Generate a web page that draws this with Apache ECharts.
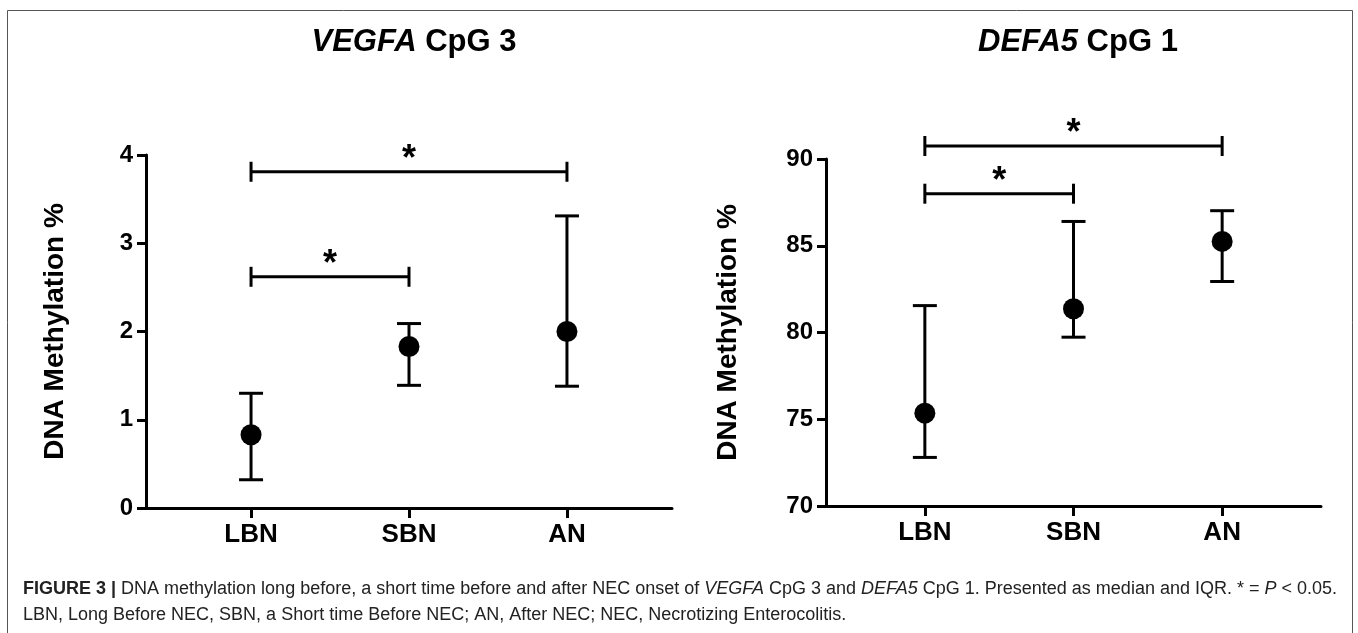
<!DOCTYPE html>
<html>
<head>
<meta charset="utf-8">
<script src="https://cdn.jsdelivr.net/npm/echarts@6/dist/echarts.min.js"></script>
<style>
  html, body { margin: 0; padding: 0; background: #fff; }
  #main { width: 1358px; height: 633px; }
</style>
</head>
<body>
<div id="main"></div>
<script>
// 数据
var categories = ['LBN', 'SBN', 'AN'];
var catPos = [1, 2, 3];

var vegfaMedian = [0.83, 1.83, 2.0];
var vegfaQ1 = [0.32, 1.39, 1.38];
var vegfaQ3 = [1.30, 2.09, 3.31];
var vegfaTicks = [0, 1, 2, 3, 4];
// [from, to, y]
var vegfaBrackets = [[1, 3, 3.81], [1, 2, 2.62]];

var defa5Median = [75.35, 81.37, 85.25];
var defa5Q1 = [72.8, 79.73, 82.94];
var defa5Q3 = [81.55, 86.4, 87.02];
var defa5Ticks = [70, 75, 80, 85, 90];
var defa5Brackets = [[1, 3, 90.75], [1, 2, 88.0]];

var FONT = "'Liberation Sans', Arial, Helvetica, sans-serif";

function errorBarItem(params, api) {
	var x = api.value(0);
	var lo = api.coord([x, api.value(1)]);
	var hi = api.coord([x, api.value(2)]);
	var w = 12;
	var st = { stroke: '#000', lineWidth: 3 };
	return {
		type: 'group',
		children: [
			{ type: 'line', shape: { x1: lo[0], y1: lo[1], x2: hi[0], y2: hi[1] }, style: st },
			{ type: 'line', shape: { x1: lo[0] - w, y1: lo[1], x2: lo[0] + w, y2: lo[1] }, style: st },
			{ type: 'line', shape: { x1: hi[0] - w, y1: hi[1], x2: hi[0] + w, y2: hi[1] }, style: st }
		]
	};
}

function bracketItem(params, api) {
	var a = api.coord([api.value(0), api.value(2)]);
	var b = api.coord([api.value(1), api.value(2)]);
	var h = 10;
	var st = { stroke: '#000', lineWidth: 3 };
	return {
		type: 'group',
		children: [
			{ type: 'line', shape: { x1: a[0], y1: a[1], x2: b[0], y2: b[1] }, style: st },
			{ type: 'line', shape: { x1: a[0], y1: a[1] - h, x2: a[0], y2: a[1] + h }, style: st },
			{ type: 'line', shape: { x1: b[0], y1: b[1] - h, x2: b[0], y2: b[1] + h }, style: st },
			{
				type: 'text',
				style: {
					text: '*', x: (a[0] + b[0]) / 2, y: a[1] - 12,
					align: 'center', verticalAlign: 'middle',
					font: 'bold 36px ' + FONT, fill: '#000'
				}
			}
		]
	};
}

function zip3(a, b, c) {
	var out = [];
	for (var i = 0; i < a.length; i++) out.push([a[i], b[i], c[i]]);
	return out;
}
function zip2(a, b) {
	var out = [];
	for (var i = 0; i < a.length; i++) out.push([a[i], b[i]]);
	return out;
}

function xAxisCfg(idx) {
	return {
		type: 'value', gridIndex: idx, min: 0.335, max: 3.665,
		splitLine: { show: false },
		axisLine: { show: true, onZero: false, lineStyle: { color: '#000', width: 3 } },
		axisTick: { show: true, customValues: catPos, length: 10, lineStyle: { color: '#000', width: 3 } },
		axisLabel: {
			customValues: catPos, margin: 14,
			formatter: function (v) { return categories[Math.round(v) - 1]; },
			color: '#000', fontSize: 26, fontWeight: 'bold', fontFamily: FONT
		}
	};
}

function yAxisCfg(idx, ticks, gap) {
	return {
		type: 'value', gridIndex: idx,
		min: ticks[0], max: ticks[ticks.length - 1], interval: ticks[1] - ticks[0],
		name: 'DNA Methylation %', nameLocation: 'middle', nameGap: gap,
		nameTextStyle: { color: '#000', fontSize: 28, fontWeight: 'bold', fontFamily: FONT },
		splitLine: { show: false },
		axisLine: { show: true, lineStyle: { color: '#000', width: 3 } },
		axisTick: { show: true, length: 9, lineStyle: { color: '#000', width: 3 } },
		axisLabel: { margin: 13, color: '#000', fontSize: 24, fontWeight: 'bold', fontFamily: FONT }
	};
}

var titleRich = {
	i: { fontSize: 31, fontWeight: 'bold', fontStyle: 'italic', fontFamily: FONT, color: '#000' },
	n: { fontSize: 31, fontWeight: 'bold', fontFamily: FONT, color: '#000' }
};

var capRich = {
	b: { fontSize: 18, fontWeight: 'bold', fontFamily: FONT, fill: '#222' },
	i: { fontSize: 18, fontStyle: 'italic', fontFamily: FONT, fill: '#222' },
	n: { fontSize: 18, fontFamily: FONT, fill: '#222' }
};

var chart = echarts.init(document.getElementById('main'));
chart.setOption({
	animation: false,
	backgroundColor: '#fff',
	title: [
		{ text: '{i|VEGFA}{n| CpG 3}', left: 409, top: 22, textAlign: 'center', textStyle: { rich: titleRich } },
		{ text: '{i|DEFA5}{n| CpG 1}', left: 1073, top: 22, textAlign: 'center', textStyle: { rich: titleRich } }
	],
	grid: [
		{ left: 146, right: 686, top: 155, bottom: 125 },
		{ left: 826, right: 37, top: 159, bottom: 127 }
	],
	xAxis: [xAxisCfg(0), xAxisCfg(1)],
	yAxis: [yAxisCfg(0, vegfaTicks, 77), yAxisCfg(1, defa5Ticks, 84)],
	series: [
		{ type: 'custom', xAxisIndex: 0, yAxisIndex: 0, renderItem: errorBarItem, data: zip3(catPos, vegfaQ1, vegfaQ3), z: 2 },
		{ type: 'scatter', xAxisIndex: 0, yAxisIndex: 0, symbolSize: 21, itemStyle: { color: '#000', opacity: 1 }, data: zip2(catPos, vegfaMedian), z: 3 },
		{ type: 'custom', xAxisIndex: 0, yAxisIndex: 0, renderItem: bracketItem, data: vegfaBrackets, clip: false },
		{ type: 'custom', xAxisIndex: 1, yAxisIndex: 1, renderItem: errorBarItem, data: zip3(catPos, defa5Q1, defa5Q3), z: 2 },
		{ type: 'scatter', xAxisIndex: 1, yAxisIndex: 1, symbolSize: 21, itemStyle: { color: '#000', opacity: 1 }, data: zip2(catPos, defa5Median), z: 3 },
		{ type: 'custom', xAxisIndex: 1, yAxisIndex: 1, renderItem: bracketItem, data: defa5Brackets, clip: false }
	],
	graphic: [
		{
			type: 'rect', silent: true,
			shape: { x: 7.5, y: 10.5, width: 1345, height: 640 },
			style: { fill: 'none', stroke: '#555', lineWidth: 1 }
		},
		{
			type: 'text', left: 23, top: 580,
			style: {
				text: '{b|FIGURE 3 |}{n| DNA methylation long before, a short time before and after NEC onset of }{i|VEGFA}{n| CpG 3 and }{i|DEFA5}{n| CpG 1. Presented as median and IQR. * = }{i|P}{n| < 0.05.}',
				rich: capRich
			}
		},
		{
			type: 'text', left: 23, top: 606,
			style: {
				text: 'LBN, Long Before NEC, SBN, a Short time Before NEC; AN, After NEC; NEC, Necrotizing Enterocolitis.',
				font: '18px ' + FONT, fill: '#222'
			}
		}
	]
});
</script>
</body>
</html>
